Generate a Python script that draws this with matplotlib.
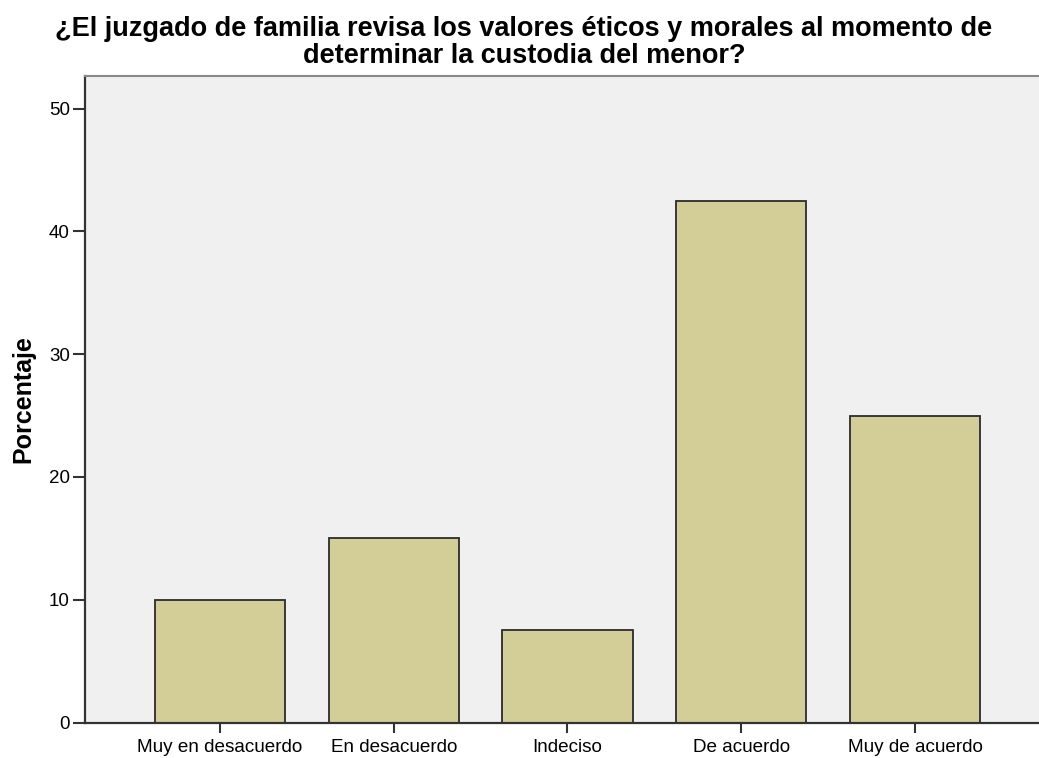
import numpy as np
import matplotlib.pyplot as plt

categories = ['Muy en desacuerdo', 'En desacuerdo', 'Indeciso', 'De acuerdo', 'Muy de acuerdo']
porcentaje = [10, 15, 7.5, 42.5, 25]
yticks = [0, 10, 20, 30, 40, 50]
titulo = ['¿El juzgado de familia revisa los valores éticos y morales al momento de',
          'determinar la custodia del menor?']

plt.rcParams['font.family'] = ['Liberation Sans', 'DejaVu Sans']

W, H = 1039, 758
fig = plt.figure(figsize=(W/100, H/100), dpi=100)
ax = fig.add_axes([85/W, (H-722.5)/H, 1 - 85/W, (722.5-75.5)/H])
ax.set_facecolor('#F0F0F0')

x = np.arange(len(categories))
ax.bar(x, porcentaje, 0.75, color='#D3CE97', edgecolor='#2b2b2b', linewidth=1.3, zorder=2)

ax.set_xlim(-0.777, 4.714)
ax.set_ylim(0, 52.7)
ax.set_yticks(yticks)
ax.set_xticks(x)
ax.set_xticklabels(categories, fontsize=13.6)
ax.tick_params(axis='y', labelsize=13.5, length=9, width=1.5, color='#333333', pad=2)
ax.tick_params(axis='x', length=7, width=1.5, color='#333333', pad=5)

for s in ['left', 'bottom']:
    ax.spines[s].set_linewidth(1.6)
    ax.spines[s].set_color('#333333')
ax.spines['top'].set_color('#888888')
ax.spines['top'].set_linewidth(1.5)
ax.spines['right'].set_visible(False)

fig.text(23/W, 1 - 399/H, 'Porcentaje', rotation=90, ha='center', va='center',
         fontsize=18, fontweight='bold')

fig.text(524/W, 1 - 36/H, titulo[0], ha='center', va='baseline', fontsize=19.5, fontweight='bold')
fig.text(524/W, 1 - 63/H, titulo[1], ha='center', va='baseline', fontsize=19.5, fontweight='bold')

fig.savefig('out.png', dpi=100)
